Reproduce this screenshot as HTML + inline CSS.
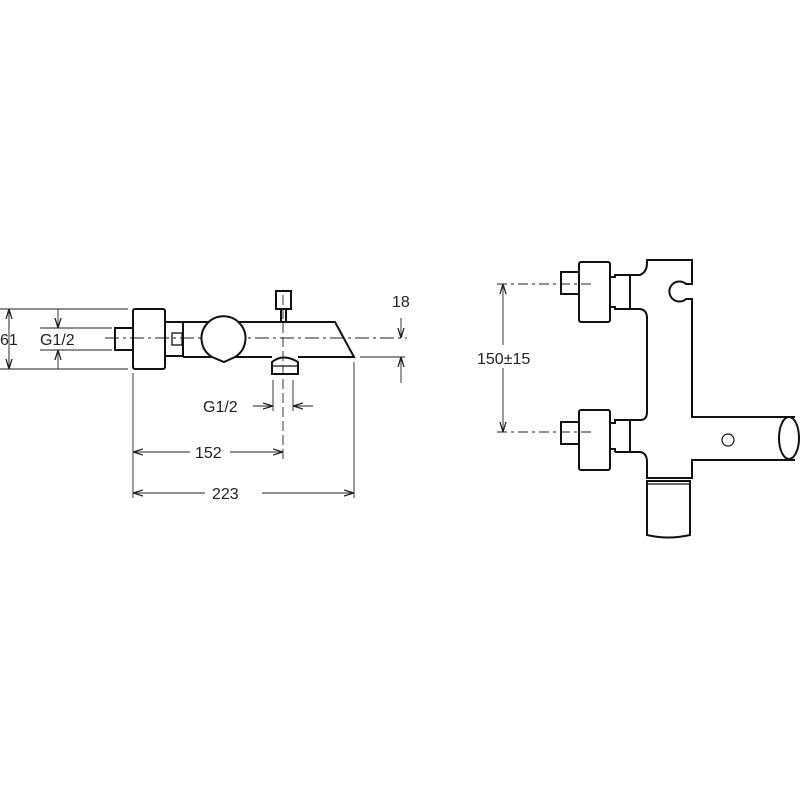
<!DOCTYPE html>
<html><head><style>
html,body{margin:0;padding:0;background:#fff;}
svg{display:block;}
text{font-family:"Liberation Sans",sans-serif;font-size:16px;fill:#222;}
</style></head><body>
<svg width="800" height="800" viewBox="0 0 800 800" xmlns="http://www.w3.org/2000/svg">
<defs>
<marker id="a" viewBox="0 0 10 10" refX="10" refY="5" markerWidth="10" markerHeight="10" markerUnits="userSpaceOnUse" orient="auto-start-reverse"><path d="M0,2 L10,5 L0,8" fill="none" stroke="#222" stroke-width="1.3"/></marker>
</defs>
<g fill="none" stroke="#222" stroke-width="0.9">
<line x1="0" y1="309" x2="128" y2="309"/>
<line x1="0" y1="369" x2="128" y2="369"/>
<line x1="9" y1="309" x2="9" y2="369"/>
<line x1="9" y1="330" x2="9" y2="309" marker-end="url(#a)"/>
<line x1="9" y1="350" x2="9" y2="369" marker-end="url(#a)"/>
<line x1="40" y1="328" x2="112" y2="328"/>
<line x1="40" y1="350" x2="112" y2="350"/>
<line x1="58" y1="309" x2="58" y2="328" marker-end="url(#a)"/>
<line x1="58" y1="369" x2="58" y2="350" marker-end="url(#a)"/>
<line x1="133" y1="373" x2="133" y2="498"/>
<line x1="354" y1="362" x2="354" y2="498"/>
<line x1="133" y1="452" x2="190" y2="452" marker-start="url(#a)"/>
<line x1="230" y1="452" x2="283" y2="452" marker-end="url(#a)"/>
<line x1="133" y1="493" x2="205" y2="493" marker-start="url(#a)"/>
<line x1="262" y1="493" x2="354" y2="493" marker-end="url(#a)"/>
<line x1="273" y1="380" x2="273" y2="411"/>
<line x1="293" y1="380" x2="293" y2="411"/>
<line x1="253" y1="406" x2="273" y2="406" marker-end="url(#a)"/>
<line x1="313" y1="406" x2="293" y2="406" marker-end="url(#a)"/>
<line x1="360" y1="357" x2="405" y2="357"/>
<line x1="401" y1="318" x2="401" y2="338" marker-end="url(#a)"/>
<line x1="401" y1="383" x2="401" y2="357" marker-end="url(#a)"/>
<line x1="105" y1="338" x2="407" y2="338" stroke-dasharray="14,4,3,4"/>
<line x1="283" y1="295" x2="283" y2="460" stroke-dasharray="10,4"/>
</g>
<g fill="none" stroke="#111" stroke-width="2">
<rect x="133" y="309" width="32" height="60" rx="2"/>
<rect x="115" y="328" width="18" height="22"/>
<path d="M165,322 H183 V356 H165"/>
<rect x="172" y="333" width="10" height="12" stroke-width="1.3"/>
<path d="M183,322 H335 L354,357 H298 M272,357 H235 M212,357 H183 Z"/>
<path d="M212,357 A22,22 0 1 1 235,357 L224,362 Z" fill="#fff"/>
<rect x="276" y="291" width="15" height="18"/>
<path d="M281,309 V322 M286,309 V322"/>
<path d="M272,374 V362 Q283,353 298,362 V374 Z"/>
<line x1="272" y1="366" x2="298" y2="366" stroke-width="1.2"/>
</g>
<text x="0" y="345">61</text>
<text x="40" y="345">G1/2</text>
<text x="203" y="412">G1/2</text>
<text x="195" y="458">152</text>
<text x="212" y="499">223</text>
<text x="392" y="307">18</text>

<g fill="none" stroke="#222" stroke-width="0.9">
<line x1="497" y1="284" x2="595" y2="284" stroke-dasharray="10,4,3,4"/>
<line x1="497" y1="432" x2="595" y2="432" stroke-dasharray="10,4,3,4"/>
<line x1="503" y1="345" x2="503" y2="284" marker-end="url(#a)"/>
<line x1="503" y1="368" x2="503" y2="432" marker-end="url(#a)"/>
</g>
<text x="477" y="364">150±15</text>
<g fill="none" stroke="#111" stroke-width="2">
<rect x="579" y="262" width="31" height="60" rx="2"/>
<rect x="561" y="272" width="18" height="22"/>
<rect x="579" y="410" width="31" height="60" rx="2"/>
<rect x="561" y="422" width="18" height="22"/>
<path d="M610,277 H615 V275 H630 V309 H615 V307 H610 M630,275 H640 Q647,272 647,263 V260 H692 V284 H686 A10,10 0 1 0 686,299 H692 V417 H795 M795,460 H692 V478 H647 V462 Q647,453 640,452 H630 V420 H615 V423 H610 M630,309 H640 Q647,310 647,318 V412 Q647,420 640,420 H630"/>
<path d="M630,420 V452 M615,452 H630 M610,449 H615 V452"/>
<path d="M647,481 H690 V535 Q668,540 647,535 Z"/>
<line x1="647" y1="484" x2="690" y2="484" stroke-width="1.2"/>
<ellipse cx="789" cy="438" rx="10" ry="21"/>
<circle cx="728" cy="440" r="6" stroke-width="1.2"/>
</g>
</svg>
</body></html>
